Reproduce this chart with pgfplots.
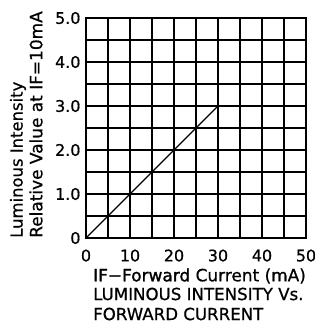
\documentclass[border=0pt]{standalone}
\usepackage{pgfplots}
\pgfplotsset{compat=1.18}
\usepackage{fontspec}
\setmainfont{DejaVu Sans}
\newfontfamily\emb[FakeBold=0.7]{DejaVu Sans}
\newfontfamily\embb[FakeBold=1.5]{DejaVu Sans}
\begin{document}
\begin{tikzpicture}
\path[use as bounding box] (-86bp,-89bp) rectangle (229bp,238bp);
\begin{axis}[
  at={(0,0)}, anchor=south west,
  scale only axis, width=220bp, height=220bp,
  xmin=0, xmax=50, ymin=0, ymax=5,
  xtick={0,10,...,50}, ytick={0,1,...,5},
  yticklabels={0,1.0,2.0,3.0,4.0,5.0},
  minor x tick num=1, minor y tick num=1,
  grid=both,
  major grid style={black, line width=1.2bp},
  minor grid style={black, line width=1.2bp},
  axis line style={black, line width=1.2bp},
  major tick length=0pt, minor tick length=0pt,
  /pgf/number format/assume math mode=true,
  tick label style={font=\emb\fontsize{16}{18}\selectfont},
  xticklabel style={yshift=-8bp},
  yticklabel style={xshift=-2bp},
]
\addplot[black, line width=1.1bp] coordinates {(0,0) (30,3)};
\end{axis}
\node[rotate=90, anchor=west, inner sep=0pt, font=\emb\fontsize{16.5}{19}\selectfont] at (-68bp,0bp) {Luminous Intensity};
\node[rotate=90, anchor=west, inner sep=0pt, font=\emb\fontsize{17}{19}\selectfont] at (-50bp,0bp) {Relative Value at IF=10mA};
\node[anchor=west, inner sep=0pt, font=\emb\fontsize{17}{19}\selectfont] at (7bp,-38bp) {{\embb IF−Forward} Current (mA)};
\node[anchor=west, inner sep=0pt, font=\emb\fontsize{16.7}{19}\selectfont] at (7bp,-56bp) {LUMINOUS INTENSITY Vs.};
\node[anchor=west, inner sep=0pt, font=\emb\fontsize{16.7}{19}\selectfont] at (7bp,-76bp) {FORWARD CURRENT};
\end{tikzpicture}
\end{document}
